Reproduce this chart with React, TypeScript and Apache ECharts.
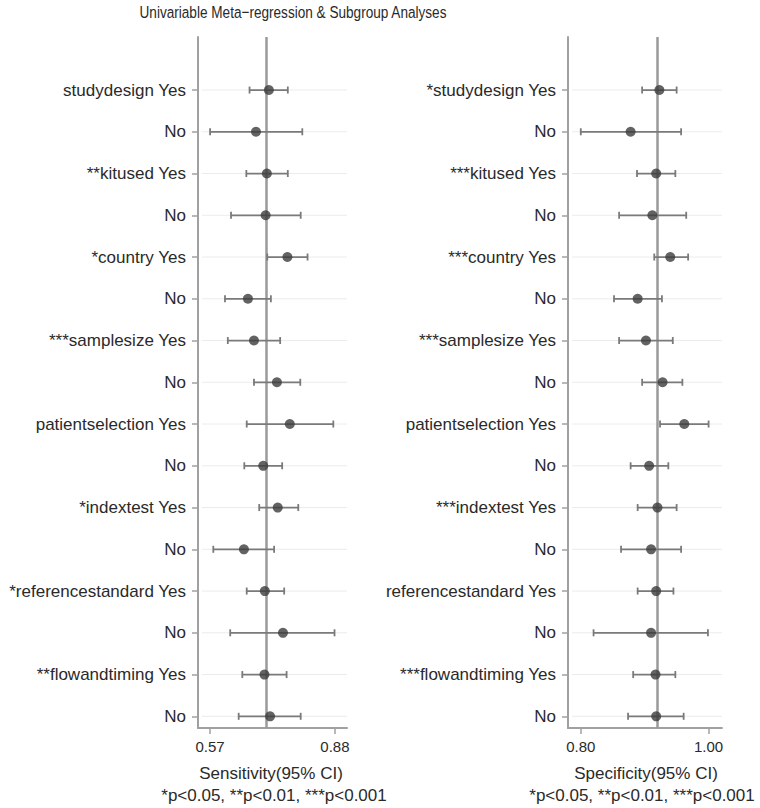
import React, { useEffect, useRef } from "react";
import * as echarts from "echarts";

const sensLabels = [
  "studydesign Yes", "No", "**kitused Yes", "No", "*country Yes", "No",
  "***samplesize Yes", "No", "patientselection Yes", "No", "*indextest Yes", "No",
  "*referencestandard Yes", "No", "**flowandtiming Yes", "No",
];
const specLabels = [
  "*studydesign Yes", "No", "***kitused Yes", "No", "***country Yes", "No",
  "***samplesize Yes", "No", "patientselection Yes", "No", "***indextest Yes", "No",
  "referencestandard Yes", "No", "***flowandtiming Yes", "No",
];

const sensEst = [0.716, 0.684, 0.711, 0.708, 0.762, 0.664, 0.679, 0.736, 0.768, 0.702, 0.738, 0.654, 0.706, 0.751, 0.705, 0.719];
const sensLo = [0.668, 0.570, 0.660, 0.622, 0.712, 0.607, 0.614, 0.679, 0.661, 0.655, 0.692, 0.578, 0.661, 0.620, 0.650, 0.641];
const sensHi = [0.763, 0.799, 0.763, 0.795, 0.812, 0.721, 0.744, 0.794, 0.876, 0.749, 0.789, 0.729, 0.754, 0.879, 0.760, 0.795];

const specEst = [0.923, 0.878, 0.918, 0.912, 0.940, 0.889, 0.902, 0.928, 0.962, 0.907, 0.920, 0.910, 0.918, 0.910, 0.917, 0.918];
const specLo = [0.896, 0.800, 0.888, 0.860, 0.915, 0.852, 0.860, 0.896, 0.924, 0.878, 0.889, 0.863, 0.889, 0.820, 0.882, 0.874];
const specHi = [0.950, 0.957, 0.948, 0.965, 0.968, 0.927, 0.944, 0.959, 1.000, 0.937, 0.950, 0.957, 0.945, 0.999, 0.948, 0.961];

const pooledSens = 0.709;
const pooledSpec = 0.916;

const sensTicks = [0.57, 0.88];
const specTicks = [0.8, 1.0];

const FONT = "'Liberation Sans', Arial, Helvetica, sans-serif";
const TEXT = "#2a2a2a";
const AXIS = "#a0a0a0";

export default function App() {
  const ref = useRef<HTMLDivElement>(null);

  useEffect(() => {
    if (!ref.current) return;
    const chart = echarts.init(ref.current, null, { renderer: "svg" });
    const rows = sensLabels.map((_, i) => i);

    const mkX = (idx: number, min: number, max: number, ticks: number[]) => ({
      type: "value",
      gridIndex: idx,
      min,
      max,
      axisLine: { show: true, onZero: false, lineStyle: { color: AXIS, width: 2 } },
      axisTick: { show: true, customValues: ticks, length: 6, lineStyle: { color: AXIS, width: 1.5 } },
      axisLabel: {
        show: true,
        customValues: ticks,
        formatter: (v: number) => v.toFixed(2),
        fontSize: 15,
        color: TEXT,
        fontFamily: FONT,
        margin: 11,
      },
      splitLine: { show: false },
    });

    const mkY = (idx: number, labels: string[]) => ({
      type: "value",
      gridIndex: idx,
      inverse: true,
      min: -1.27,
      max: 15.28,
      axisLine: { show: true, onZero: false, lineStyle: { color: AXIS, width: 2 } },
      axisTick: { show: true, customValues: rows, length: 6, lineStyle: { color: AXIS, width: 1.5 } },
      axisLabel: {
        show: true,
        customValues: rows,
        formatter: (v: number) => labels[Math.round(v)] ?? "",
        fontSize: 17,
        color: TEXT,
        fontFamily: FONT,
        margin: 12,
      },
      splitLine: { show: false },
    });

    const gridLines = (idx: number) => ({
      type: "custom",
      xAxisIndex: idx,
      yAxisIndex: idx,
      z: 1,
      silent: true,
      data: rows.map((r) => [r]),
      encode: { y: 0 },
      renderItem: (params: any, api: any) => {
        const cs = params.coordSys;
        const y = api.coord([0, api.value(0)])[1];
        return {
          type: "line",
          shape: { x1: cs.x + 4, y1: y, x2: cs.x + cs.width, y2: y },
          style: { stroke: "#ececec", lineWidth: 1 },
        };
      },
    });

    const errBars = (idx: number, lo: number[], hi: number[]) => ({
      type: "custom",
      xAxisIndex: idx,
      yAxisIndex: idx,
      z: 3,
      silent: true,
      data: rows.map((r) => [r, lo[r], hi[r]]),
      encode: { x: [1, 2], y: 0 },
      renderItem: (params: any, api: any) => {
        const row = api.value(0);
        const a = api.coord([api.value(1), row]);
        const b = api.coord([api.value(2), row]);
        const h = 3.5;
        const st = { stroke: "#7a7a7a", lineWidth: 1.8 };
        return {
          type: "group",
          children: [
            { type: "line", shape: { x1: a[0], y1: a[1], x2: b[0], y2: b[1] }, style: st },
            { type: "line", shape: { x1: a[0], y1: a[1] - h, x2: a[0], y2: a[1] + h }, style: st },
            { type: "line", shape: { x1: b[0], y1: b[1] - h, x2: b[0], y2: b[1] + h }, style: st },
          ],
        };
      },
    });

    const points = (idx: number, est: number[], pooled: number) => ({
      type: "scatter",
      xAxisIndex: idx,
      yAxisIndex: idx,
      z: 4,
      symbol: "circle",
      symbolSize: 10,
      itemStyle: { color: "#3c3c3c" },
      data: rows.map((r) => [est[r], r]),
      markLine: {
        silent: true,
        symbol: ["none", "none"],
        label: { show: false },
        lineStyle: { color: "#9a9a9a", width: 2.5, type: "solid" },
        data: [{ xAxis: pooled }],
        z: 2,
      },
    });

    const option: any = {
      animation: false,
      backgroundColor: "#ffffff",
      grid: [
        { left: 198, width: 149, top: 37, height: 691 },
        { left: 568, width: 154, top: 37, height: 691 },
      ],
      xAxis: [mkX(0, 0.54, 0.91, sensTicks), mkX(1, 0.78, 1.021, specTicks)],
      yAxis: [mkY(0, sensLabels), mkY(1, specLabels)],
      series: [
        gridLines(0),
        gridLines(1),
        errBars(0, sensLo, sensHi),
        errBars(1, specLo, specHi),
        points(0, sensEst, pooledSens),
        points(1, specEst, pooledSpec),
      ],
      graphic: [
        {
          type: "text",
          x: 293,
          y: 12,
          scaleX: 0.8,
          style: {
            text: "Univariable Meta−regression & Subgroup Analyses",
            align: "center",
            verticalAlign: "middle",
            fontSize: 17,
            fill: TEXT,
            fontFamily: FONT,
          },
        },
        {
          type: "text",
          x: 271,
          y: 773,
          style: { text: "Sensitivity(95% CI)", align: "center", verticalAlign: "middle", fontSize: 17, fill: TEXT, fontFamily: FONT },
        },
        {
          type: "text",
          x: 274,
          y: 795,
          style: { text: "*p<0.05, **p<0.01, ***p<0.001", align: "center", verticalAlign: "middle", fontSize: 17, fill: TEXT, fontFamily: FONT },
        },
        {
          type: "text",
          x: 646,
          y: 773,
          style: { text: "Specificity(95% CI)", align: "center", verticalAlign: "middle", fontSize: 17, fill: TEXT, fontFamily: FONT },
        },
        {
          type: "text",
          x: 642,
          y: 795,
          style: { text: "*p<0.05, **p<0.01, ***p<0.001", align: "center", verticalAlign: "middle", fontSize: 17, fill: TEXT, fontFamily: FONT },
        },
      ],
    };

    chart.setOption(option);
    return () => chart.dispose();
  }, []);

  return (
    <div
      ref={ref}
      style={{ position: "fixed", left: 0, top: 0, width: 760, height: 808, background: "#fff" }}
    />
  );
}
